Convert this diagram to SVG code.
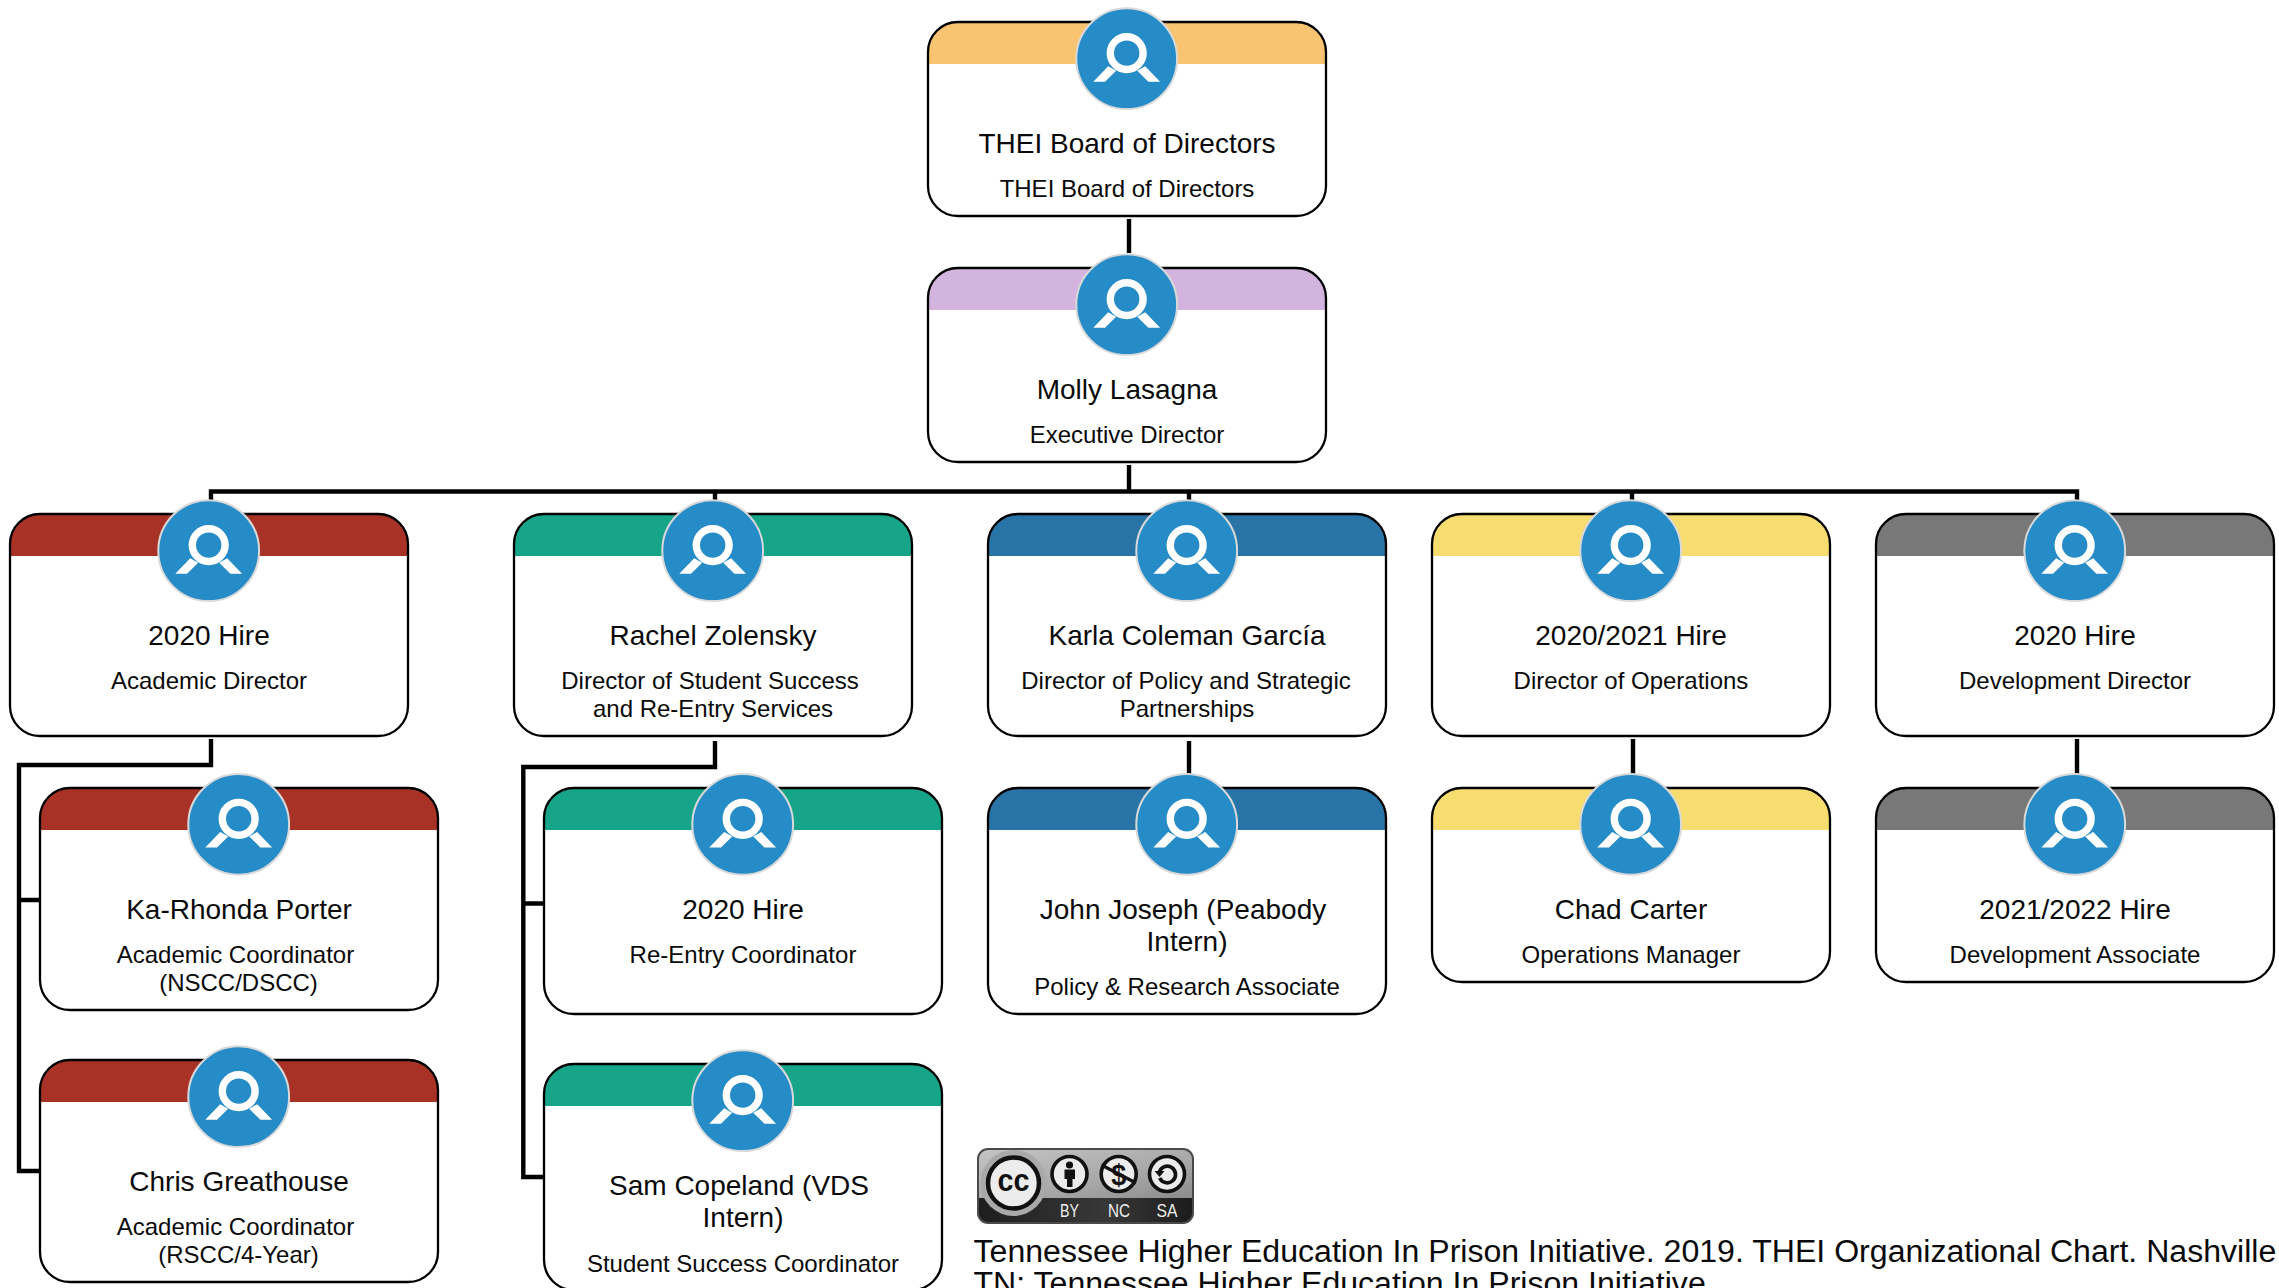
<svg xmlns="http://www.w3.org/2000/svg" xmlns:xlink="http://www.w3.org/1999/xlink" width="2279" height="1288" viewBox="0 0 2279 1288">
<style>
text{font-family:"Liberation Sans",Arial,sans-serif;fill:#0a0a0a}
.t{font-size:28px;text-anchor:middle}
.s{font-size:24px;text-anchor:middle}
.card{fill:#fff;stroke:none}
.frame{fill:none;stroke:#000;stroke-width:2.3}
.con{fill:none;stroke:#000;stroke-width:4.4;stroke-linecap:butt;stroke-linejoin:miter}
.cite{font-size:32.1px}
</style>
<defs>
<g id="avatar">
<circle r="50.4" fill="#268cc8" stroke="#d9d9d9" stroke-width="2"/>
<path d="M-33.4 23L-18.5 7.5L-10.5 12L-21.7 23ZM33.4 23L18.5 7.5L10.5 12L21.7 23Z" fill="#fff"/>
<circle cy="-5.6" r="16.4" fill="none" stroke="#fff" stroke-width="7.4"/>
</g>
<linearGradient id="ccTop" x1="0" y1="0" x2="1" y2="1">
<stop offset="0" stop-color="#c4c4c4"/><stop offset="0.6" stop-color="#a8a8a8"/><stop offset="1" stop-color="#8c8c8c"/>
</linearGradient>
<linearGradient id="ccLow" x1="0" y1="0" x2="1" y2="0">
<stop offset="0" stop-color="#1e1e1e"/><stop offset="0.6" stop-color="#383838"/><stop offset="1" stop-color="#1c1c1c"/>
</linearGradient>
<clipPath id="ccClip"><rect x="979" y="1150" width="213" height="72" rx="9"/></clipPath>
</defs>
<rect width="2279" height="1288" fill="#fff"/>
<g id="connectors">
<path class="con" d="M1129 219V253"/>
<path class="con" d="M1129 465V491.5"/>
<path class="con" d="M211 510V491.5H2077V510"/>
<path class="con" d="M715 491.5V510M1189 491.5V510M1632 491.5V510"/>
<path class="con" d="M211 739V765H19V1171H40M19 900H40"/>
<path class="con" d="M715 741V767H523.3V1177H544M523.3 903.5H544"/>
<path class="con" d="M1189 741V775M1633 739V775M2077 739V775"/>
</g>
<g id="n-board">
<rect class="card" x="928" y="22" width="398" height="194" rx="30"/>
<path d="M928 64V52A30 30 0 0 1 958 22H1296A30 30 0 0 1 1326 52V64Z" fill="#f8c471"/>
<rect class="frame" x="928" y="22" width="398" height="194" rx="30"/>
<use href="#avatar" x="1126.7" y="58.7"/>
<text class="t" x="1127" y="153">THEI Board of Directors</text>
<text class="s" x="1127" y="197">THEI Board of Directors</text>
</g>
<g id="n-molly">
<rect class="card" x="928" y="268" width="398" height="194" rx="30"/>
<path d="M928 310V298A30 30 0 0 1 958 268H1296A30 30 0 0 1 1326 298V310Z" fill="#d2b4de"/>
<rect class="frame" x="928" y="268" width="398" height="194" rx="30"/>
<use href="#avatar" x="1126.7" y="304.7"/>
<text class="t" x="1127" y="399">Molly Lasagna</text>
<text class="s" x="1127" y="443">Executive Director</text>
</g>
<g id="n-academic">
<rect class="card" x="10" y="514" width="398" height="222" rx="30"/>
<path d="M10 556V544A30 30 0 0 1 40 514H378A30 30 0 0 1 408 544V556Z" fill="#a93226"/>
<rect class="frame" x="10" y="514" width="398" height="222" rx="30"/>
<use href="#avatar" x="208.7" y="550.7"/>
<text class="t" x="209" y="645">2020 Hire</text>
<text class="s" x="209" y="689">Academic Director</text>
</g>
<g id="n-rachel">
<rect class="card" x="514" y="514" width="398" height="222" rx="30"/>
<path d="M514 556V544A30 30 0 0 1 544 514H882A30 30 0 0 1 912 544V556Z" fill="#17a589"/>
<rect class="frame" x="514" y="514" width="398" height="222" rx="30"/>
<use href="#avatar" x="712.7" y="550.7"/>
<text class="t" x="713" y="645">Rachel Zolensky</text>
<text class="s" x="710" y="689">Director of Student Success</text>
<text class="s" x="713" y="717">and Re-Entry Services</text>
</g>
<g id="n-karla">
<rect class="card" x="988" y="514" width="398" height="222" rx="30"/>
<path d="M988 556V544A30 30 0 0 1 1018 514H1356A30 30 0 0 1 1386 544V556Z" fill="#2874a6"/>
<rect class="frame" x="988" y="514" width="398" height="222" rx="30"/>
<use href="#avatar" x="1186.7" y="550.7"/>
<text class="t" x="1187" y="645">Karla Coleman García</text>
<text class="s" x="1186" y="689">Director of Policy and Strategic</text>
<text class="s" x="1187" y="717">Partnerships</text>
</g>
<g id="n-ops">
<rect class="card" x="1432" y="514" width="398" height="222" rx="30"/>
<path d="M1432 556V544A30 30 0 0 1 1462 514H1800A30 30 0 0 1 1830 544V556Z" fill="#f7dc6f"/>
<rect class="frame" x="1432" y="514" width="398" height="222" rx="30"/>
<use href="#avatar" x="1630.7" y="550.7"/>
<text class="t" x="1631" y="645">2020/2021 Hire</text>
<text class="s" x="1631" y="689">Director of Operations</text>
</g>
<g id="n-dev">
<rect class="card" x="1876" y="514" width="398" height="222" rx="30"/>
<path d="M1876 556V544A30 30 0 0 1 1906 514H2244A30 30 0 0 1 2274 544V556Z" fill="#787878"/>
<rect class="frame" x="1876" y="514" width="398" height="222" rx="30"/>
<use href="#avatar" x="2074.7" y="550.7"/>
<text class="t" x="2075" y="645">2020 Hire</text>
<text class="s" x="2075" y="689">Development Director</text>
</g>
<g id="n-karhonda">
<rect class="card" x="40" y="788" width="398" height="222" rx="30"/>
<path d="M40 830V818A30 30 0 0 1 70 788H408A30 30 0 0 1 438 818V830Z" fill="#a93226"/>
<rect class="frame" x="40" y="788" width="398" height="222" rx="30"/>
<use href="#avatar" x="238.7" y="824.4"/>
<text class="t" x="239" y="919">Ka-Rhonda Porter</text>
<text class="s" x="235.5" y="963">Academic Coordinator</text>
<text class="s" x="238.5" y="991">(NSCC/DSCC)</text>
</g>
<g id="n-reentry">
<rect class="card" x="544" y="788" width="398" height="226" rx="30"/>
<path d="M544 830V818A30 30 0 0 1 574 788H912A30 30 0 0 1 942 818V830Z" fill="#17a589"/>
<rect class="frame" x="544" y="788" width="398" height="226" rx="30"/>
<use href="#avatar" x="742.7" y="824.4"/>
<text class="t" x="743" y="919">2020 Hire</text>
<text class="s" x="743" y="963">Re-Entry Coordinator</text>
</g>
<g id="n-john">
<rect class="card" x="988" y="788" width="398" height="226" rx="30"/>
<path d="M988 830V818A30 30 0 0 1 1018 788H1356A30 30 0 0 1 1386 818V830Z" fill="#2874a6"/>
<rect class="frame" x="988" y="788" width="398" height="226" rx="30"/>
<use href="#avatar" x="1186.7" y="824.4"/>
<text class="t" x="1183" y="919">John Joseph (Peabody</text>
<text class="t" x="1187" y="951">Intern)</text>
<text class="s" x="1187" y="995">Policy &amp; Research Associate</text>
</g>
<g id="n-chad">
<rect class="card" x="1432" y="788" width="398" height="194" rx="30"/>
<path d="M1432 830V818A30 30 0 0 1 1462 788H1800A30 30 0 0 1 1830 818V830Z" fill="#f7dc6f"/>
<rect class="frame" x="1432" y="788" width="398" height="194" rx="30"/>
<use href="#avatar" x="1630.7" y="824.4"/>
<text class="t" x="1631" y="919">Chad Carter</text>
<text class="s" x="1631" y="963">Operations Manager</text>
</g>
<g id="n-devassoc">
<rect class="card" x="1876" y="788" width="398" height="194" rx="30"/>
<path d="M1876 830V818A30 30 0 0 1 1906 788H2244A30 30 0 0 1 2274 818V830Z" fill="#787878"/>
<rect class="frame" x="1876" y="788" width="398" height="194" rx="30"/>
<use href="#avatar" x="2074.7" y="824.4"/>
<text class="t" x="2075" y="919">2021/2022 Hire</text>
<text class="s" x="2075" y="963">Development Associate</text>
</g>
<g id="n-chris">
<rect class="card" x="40" y="1060" width="398" height="222" rx="30"/>
<path d="M40 1102V1090A30 30 0 0 1 70 1060H408A30 30 0 0 1 438 1090V1102Z" fill="#a93226"/>
<rect class="frame" x="40" y="1060" width="398" height="222" rx="30"/>
<use href="#avatar" x="238.7" y="1096.7"/>
<text class="t" x="239" y="1191">Chris Greathouse</text>
<text class="s" x="235.5" y="1235">Academic Coordinator</text>
<text class="s" x="238.5" y="1263">(RSCC/4-Year)</text>
</g>
<g id="n-sam">
<rect class="card" x="544" y="1064" width="398" height="226" rx="30"/>
<path d="M544 1106V1094A30 30 0 0 1 574 1064H912A30 30 0 0 1 942 1094V1106Z" fill="#17a589"/>
<rect class="frame" x="544" y="1064" width="398" height="226" rx="30"/>
<use href="#avatar" x="742.7" y="1100.7"/>
<text class="t" x="739" y="1195">Sam Copeland (VDS</text>
<text class="t" x="743" y="1227">Intern)</text>
<text class="s" x="743" y="1271.5">Student Success Coordinator</text>
</g>
<g id="cc-badge">
<rect x="977" y="1148" width="217" height="76" rx="11" fill="#4a4a4a"/>
<g clip-path="url(#ccClip)">
<rect x="979" y="1150" width="213" height="48" fill="url(#ccTop)"/>
<rect x="979" y="1198" width="213" height="24" fill="url(#ccLow)"/>
<circle cx="1013.5" cy="1183" r="33" fill="#a9a9a9"/>
</g>
<circle cx="1013.5" cy="1183" r="25.5" fill="#ececec" stroke="#111" stroke-width="4.5"/>
<text x="1013.5" y="1190.5" font-size="32" font-weight="700" text-anchor="middle" style="fill:#111" textLength="32" lengthAdjust="spacingAndGlyphs">cc</text>
<circle cx="1069.5" cy="1174" r="17.5" fill="#ececec" stroke="#111" stroke-width="3.6"/>
<circle cx="1069.5" cy="1165" r="3.6" fill="#111"/>
<path d="M1064.5 1169.5H1075V1179H1072.5V1187H1067V1179H1064.5Z" fill="#111"/>
<circle cx="1118.7" cy="1174" r="17.5" fill="#ececec" stroke="#111" stroke-width="3.6"/>
<text x="1118.7" y="1184.5" font-size="29" font-weight="700" text-anchor="middle" style="fill:#111" textLength="15" lengthAdjust="spacingAndGlyphs">$</text>
<path d="M1101.5 1165L1136 1183" stroke="#111" stroke-width="3.2" fill="none"/>
<circle cx="1167" cy="1174" r="17.5" fill="#ececec" stroke="#111" stroke-width="3.6"/>
<path d="M1159.5 1171.5A8.3 8.3 0 1 1 1159.7 1178" stroke="#111" stroke-width="3.6" fill="none"/>
<path d="M1154.5 1171H1164.5L1159.5 1177Z" fill="#111"/>
<text x="1069.5" y="1217.3" font-size="18.5" text-anchor="middle" style="fill:#eee" textLength="19" lengthAdjust="spacingAndGlyphs">BY</text>
<text x="1119" y="1217.3" font-size="18.5" text-anchor="middle" style="fill:#eee" textLength="22" lengthAdjust="spacingAndGlyphs">NC</text>
<text x="1167" y="1217.3" font-size="18.5" text-anchor="middle" style="fill:#eee" textLength="21" lengthAdjust="spacingAndGlyphs">SA</text>
</g>
<g id="citation">
<text class="cite" x="973.5" y="1261.5">Tennessee Higher Education In Prison Initiative. 2019. THEI Organizational Chart. Nashville</text>
<text class="cite" x="973.5" y="1293.5">TN: Tennessee Higher Education In Prison Initiative</text>
</g>
</svg>
